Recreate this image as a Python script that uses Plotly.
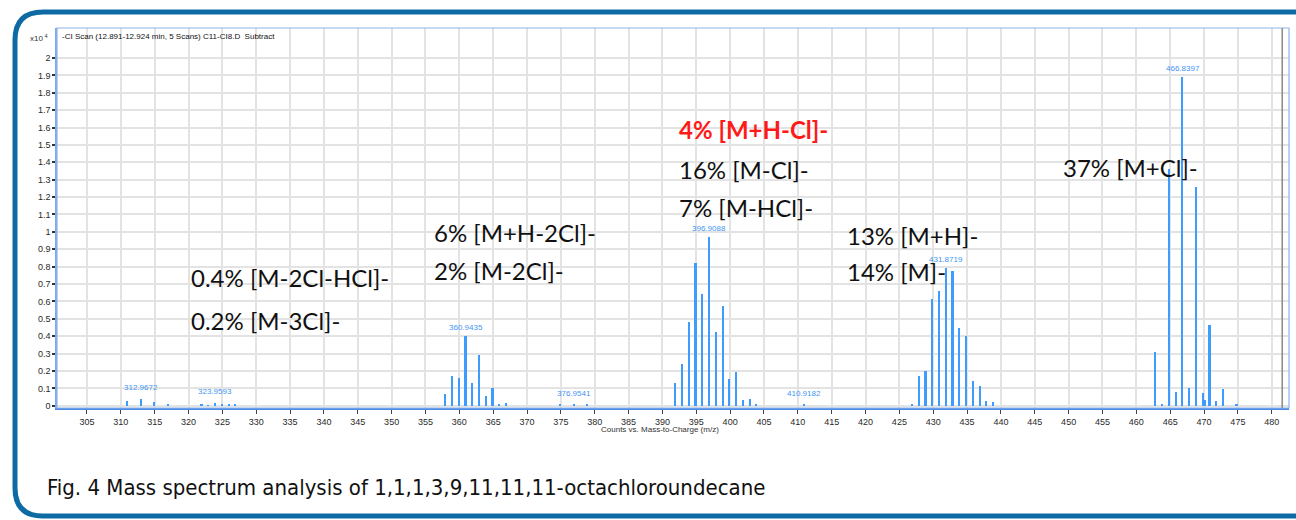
import plotly.graph_objects as go

# ---------------- data ----------------
mz = [311.0, 312.97, 314.95, 316.95,
      321.95, 322.95, 323.96, 324.95, 325.95, 326.95,
      357.94, 358.94, 359.94, 360.94, 361.94, 362.94, 363.94, 364.94, 365.94, 366.94,
      374.95, 376.95, 378.95,
      391.92, 392.92, 393.92, 394.92, 395.92, 396.91, 397.92, 398.92, 399.92, 400.92, 401.92, 402.92, 403.92,
      410.92,
      426.9, 427.9, 428.9, 429.88, 430.88, 431.87, 432.88, 433.88, 434.88, 435.88, 436.88, 437.88, 438.88,
      462.85, 463.85, 464.84, 465.85, 466.84, 467.85, 468.84, 469.85, 470.1, 470.84, 471.85, 472.84, 474.84]
counts = [0.027, 0.038, 0.020, 0.005,
          0.008, 0.004, 0.015, 0.010, 0.010, 0.005,
          0.065, 0.169, 0.157, 0.401, 0.129, 0.292, 0.054, 0.100, 0.012, 0.017,
          0.005, 0.005, 0.005,
          0.131, 0.242, 0.483, 0.819, 0.643, 0.969, 0.422, 0.574, 0.155, 0.192, 0.033, 0.038, 0.008,
          0.005,
          0.006, 0.171, 0.198, 0.614, 0.660, 0.794, 0.775, 0.449, 0.399, 0.144, 0.113, 0.027, 0.019,
          0.309, 0.010, 1.362, 0.079, 1.890, 0.100, 1.257, 0.075, 0.033, 0.463, 0.025, 0.094, 0.008]

peak_label_mz = [312.9672, 323.9593, 360.9435, 376.9541, 396.9088, 410.9182, 431.8719, 466.8397]
peak_label_y = [0.038, 0.015, 0.401, 0.005, 0.969, 0.005, 0.794, 1.890]

ion_text = ["0.4% [M-2Cl-HCl]-", "0.2% [M-3Cl]-", "6% [M+H-2Cl]-", "2% [M-2Cl]-",
            "4% [M+H-Cl]-", "16% [M-Cl]-", "7% [M-HCl]-", "13% [M+H]-", "14% [M]-", "37% [M+Cl]-"]
ion_x = [320, 320, 356, 356, 392.1, 392.1, 392.1, 417, 417, 448.9]
ion_y = [0.735, 0.493, 0.999, 0.78, 1.587, 1.357, 1.139, 0.978, 0.77, 1.368]

x_ticks = list(range(305, 481, 5))
y_ticks = [round(i * 0.1, 1) for i in range(0, 21)]

title_text = "-CI Scan (12.891-12.924 min, 5 Scans) C11-CI8.D  Subtract"
caption = "Fig. 4 Mass spectrum analysis of 1,1,1,3,9,11,11,11-octachloroundecane"

# ---------------- layout geometry ----------------
W, H = 1296, 520
L, R, T, B = 57, 1289, 28, 408
PW, PH = R - L, B - T


def px(X):
    return (X - L) / PW


def py(Y):
    return (B - Y) / PH


fig = go.Figure()
fig.add_trace(go.Bar(x=mz, y=counts, width=0.24, marker=dict(color="#3f9cff", line=dict(width=0)),
                     hoverinfo="x+y", showlegend=False))

peak_blue = "#3f95f5"
ann = []
for m, v in zip(peak_label_mz, peak_label_y):
    ann.append(dict(x=m, y=v, xref="x", yref="y", text=f"{m:.4f}", showarrow=False,
                    yanchor="bottom", yshift=2 if v > 0.1 else 5,
                    font=dict(family="Liberation Sans, Arial, sans-serif", size=8, color=peak_blue)))

for t, x, y in zip(ion_text, ion_x, ion_y):
    red = t.startswith("4%")
    ann.append(dict(x=x, y=y, xref="x", yref="y", text=f"<b>{t}</b>" if red else t, showarrow=False,
                    xanchor="left", yanchor="middle",
                    font=dict(family="Lato, Open Sans, sans-serif", size=24,
                              color="#ff1a1a" if red else "#111111")))

ann.append(dict(x=px(60), y=py(37), xref="paper", yref="paper", text=title_text, showarrow=False,
                xanchor="left", yanchor="middle",
                font=dict(family="Liberation Sans, Arial, sans-serif", size=8, color="#111111")))
ann.append(dict(x=px(50), y=py(38), xref="paper", yref="paper", text="x10<sup> 4</sup>", showarrow=False,
                xanchor="right", yanchor="middle",
                font=dict(family="Liberation Sans, Arial, sans-serif", size=8, color="#333333")))
ann.append(dict(x=px(660), y=py(429), xref="paper", yref="paper", text="Counts vs. Mass-to-Charge (m/z)",
                showarrow=False, xanchor="center", yanchor="middle",
                font=dict(family="Liberation Sans, Arial, sans-serif", size=8, color="#333333")))
ann.append(dict(x=px(45), y=py(487), xref="paper", yref="paper", text=caption, showarrow=False,
                xanchor="left", yanchor="middle",
                font=dict(family="Liberation Sans Narrow, DejaVu Sans Condensed, Arial Narrow, sans-serif",
                          size=22, color="#111111")))

# outer rounded frame
fl, ft, fr, fb, rr = 15, 12, 1340, 516, 28
path = (f"M {px(fl)},{py(fb - rr)} L {px(fl)},{py(ft + rr)} Q {px(fl)},{py(ft)} {px(fl + rr)},{py(ft)} "
        f"L {px(fr - rr)},{py(ft)} Q {px(fr)},{py(ft)} {px(fr)},{py(ft + rr)} "
        f"L {px(fr)},{py(fb - rr)} Q {px(fr)},{py(fb)} {px(fr - rr)},{py(fb)} "
        f"L {px(fl + rr)},{py(fb)} Q {px(fl)},{py(fb)} {px(fl)},{py(fb - rr)} Z")
shapes = [
    dict(type="path", path=path, xref="paper", yref="paper", line=dict(color="#0e6aa3", width=5),
         layer="below"),
    dict(type="rect", x0=0, x1=1, y0=0, y1=1, xref="paper", yref="paper",
         line=dict(color="#8cb3ec", width=1.2), layer="above"),
    dict(type="line", x0=481.55, x1=481.55, y0=0, y1=1, xref="x", yref="paper",
         line=dict(color="#8f8f8f", width=1.6), layer="above"),
]

fig.update_layout(
    width=W, height=H,
    margin=dict(l=L, r=W - R, t=T, b=H - B, pad=0),
    paper_bgcolor="white", plot_bgcolor="white",
    annotations=ann, shapes=shapes, bargap=0,
    xaxis=dict(range=[300.57, 482.55], tickmode="array", tickvals=x_ticks,
               ticktext=[str(v) for v in x_ticks],
               showgrid=True, gridcolor="#e3e3e3", gridwidth=1.5,
               ticks="outside", ticklen=4, tickcolor="#444444", tickwidth=1,
               showline=True, linecolor="#4f8ae6", linewidth=2, zeroline=False,
               tickfont=dict(family="Liberation Sans, Arial, sans-serif", size=9, color="#2a2a2a")),
    yaxis=dict(range=[-0.013, 2.1726], tickmode="array", tickvals=y_ticks,
               ticktext=[("%g" % v) for v in y_ticks],
               showgrid=True, gridcolor="#e3e3e3", gridwidth=1.5,
               ticks="outside", ticklen=3, tickcolor="#333333", tickwidth=1.5,
               showline=True, linecolor="#7fa8ea", linewidth=1.5, zeroline=False,
               tickfont=dict(family="Liberation Sans, Arial, sans-serif", size=9, color="#2a2a2a")),
)

fig.write_html("out.html", config={"displayModeBar": False},
               post_script="document.body.style.margin='0';document.body.style.overflow='hidden';")
